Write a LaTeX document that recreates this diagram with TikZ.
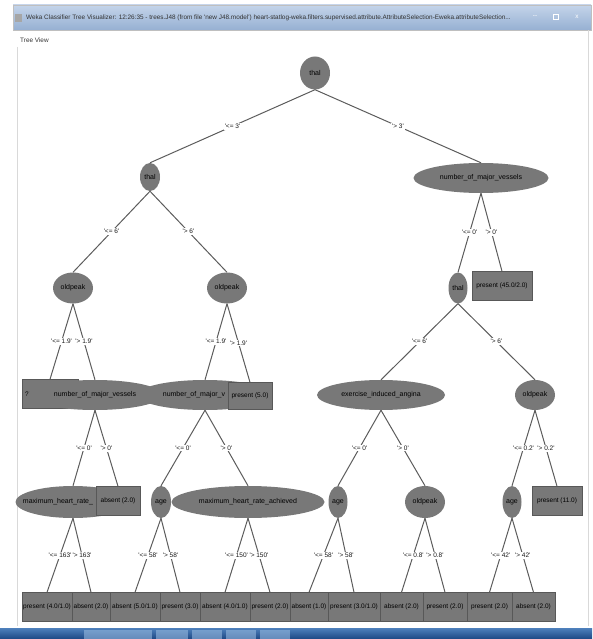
\documentclass[tikz,border=0pt]{standalone}
\usepackage{fontspec}
\usepackage{tikz}
\usetikzlibrary{shapes.geometric}
\newfontfamily\wekaFont{Liberation Sans}
\definecolor{nodeGray}{RGB}{120,120,120}
\definecolor{nodeBorder}{RGB}{88,88,88}
\definecolor{edgeGray}{RGB}{92,92,92}
\definecolor{titleTop}{RGB}{196,212,234}
\definecolor{titleBottom}{RGB}{150,176,210}
\definecolor{taskTop}{RGB}{78,128,188}
\definecolor{taskBottom}{RGB}{28,72,132}
\definecolor{taskButton}{RGB}{150,185,222}
\newcommand{\nodeFont}{\wekaFont\fontsize{7}{8}\selectfont}
\newcommand{\leafFont}{\wekaFont\fontsize{6.5}{7.5}\selectfont}
\newcommand{\smallFont}{\wekaFont\fontsize{6.4}{7}\selectfont}
\newcommand{\sq}{\textquotesingle}
\tikzstyle{screen} = [x = 1pt, y = -1pt]
\tikzstyle{splitStyle} = [ellipse, fill=nodeGray, inner sep=0, font=\nodeFont, text=black]
\tikzstyle{leafStyle} = [rectangle, fill=nodeGray, draw=nodeBorder, thin, inner sep=0, minimum height=29, font=\leafFont, text=black]
\tikzstyle{edgeLine} = [color=edgeGray, line width=1pt]
\tikzstyle{edgeText} = [midway, fill=white, inner sep=1pt, font=\leafFont, text=black!90]
\tikzstyle{frameLine} = [color=black!15, thin]
\newcommand{\splitNode}[6]{\node [splitStyle, minimum width=#4, minimum height=#5] (#1) at (#2,#3) {\makebox[0pt]{#6}};}
\newcommand{\leafNode}[5]{\node [leafStyle, minimum width=#4] (#1) at (#2,#3) {\makebox[0pt]{#5}};}
\newcommand{\treeEdge}[3]{\draw [edgeLine] (#1.south) -- (#2.north) node [edgeText] {\sq#3\sq};}

\begin{document}
\begin{tikzpicture}[screen]
  \useasboundingbox (0,0) rectangle (592,639);
  \shade [top color=titleTop, bottom color=titleBottom] (13,5) rectangle (591,30);
  \draw [color=black!25] (13,5) rectangle (591,30);
  \fill [color=black!35] (15,14) rectangle (22,22);
  \node [anchor=west, font=\smallFont, text=black!80, inner sep=0] (titleText) at (26,18)
    {Weka Classifier Tree Visualizer: 12:26:35 - trees.J48 (from file \sq new J48.model\sq) heart-statlog-weka.filters.supervised.attribute.AttributeSelection-Eweka.attributeSelection...};
  \node [font=\smallFont, text=white] (minButton) at (535,17) {--};
  \node [draw=white, thick, inner sep=0, minimum size=5] (maxButton) at (556,17) {};
  \node [font=\smallFont, text=white] (closeButton) at (577,17) {x};
  \node [anchor=west, font=\smallFont, text=black!80, inner sep=0] (menuText) at (20,40) {Tree View};
  \draw [frameLine] (17,47) -- (17,626);
  \draw [frameLine] (588,30) -- (588,626);
  \shade [top color=taskTop, bottom color=taskBottom] (0,628) rectangle (592,639);
  \foreach \left/\right in {84/152, 156/188, 192/222, 226/256, 260/290} {
    \fill [color=taskButton, opacity=.6] (\left,630) rectangle (\right,639);
  }
  \splitNode{root}{315}{73}{30}{33}{thal}
  \splitNode{thalA}{150}{177}{20}{28}{thal}
  \splitNode{vesselsA}{481}{178}{135}{30}{number\_of\_major\_vessels}
  \splitNode{oldpeakA}{73}{288}{40}{31}{oldpeak}
  \splitNode{oldpeakB}{227}{288}{40}{31}{oldpeak}
  \splitNode{thalB}{458}{288}{19}{31}{thal}
  \leafNode{leafA}{502}{286}{60}{present (45.0/2.0)}
  \node [leafStyle, minimum width=56, text width=50, align=left] (leafQ) at (50,394) {?\sq};
  \splitNode{vesselsB}{95}{395}{135}{30}{number\_of\_major\_vessels}
  \splitNode{vesselsC}{205}{395}{135}{30}{\hspace{-22pt}number\_of\_major\_v}
  \node [leafStyle, minimum width=44, minimum height=27] (leafB) at (250,396) {present (5.0)};
  \splitNode{angina}{381}{395}{128}{30}{exercise\_induced\_angina}
  \splitNode{oldpeakC}{535}{395}{40}{30}{oldpeak}
  \splitNode{heartA}{73}{502}{115}{32}{\hspace{-30pt}maximum\_heart\_rate\_}
  \leafNode{leafC}{118}{501}{44}{absent (2.0)}
  \splitNode{ageA}{161}{502}{20}{32}{age}
  \splitNode{heartB}{248}{502}{153}{32}{maximum\_heart\_rate\_achieved}
  \splitNode{ageB}{338}{502}{19}{32}{age}
  \splitNode{oldpeakD}{425}{502}{40}{32}{oldpeak}
  \splitNode{ageC}{512}{502}{19}{32}{age}
  \leafNode{leafD}{557}{501}{50}{present (11.0)}
  \leafNode{leafE}{47}{607}{50}{present (4.0/1.0)}
  \leafNode{leafF}{91}{607}{38}{absent (2.0)}
  \leafNode{leafG}{135}{607}{50}{absent (5.0/1.0)}
  \leafNode{leafH}{180}{607}{40}{present (3.0)}
  \leafNode{leafI}{225}{607}{50}{absent (4.0/1.0)}
  \leafNode{leafJ}{270}{607}{40}{present (2.0)}
  \leafNode{leafK}{309}{607}{38}{absent (1.0)}
  \leafNode{leafL}{354}{607}{52}{present (3.0/1.0)}
  \leafNode{leafM}{401.5}{607}{43}{absent (2.0)}
  \leafNode{leafN}{445}{607}{44}{present (2.0)}
  \leafNode{leafO}{489.5}{607}{45}{present (2.0)}
  \leafNode{leafP}{533.5}{607}{43}{absent (2.0)}
  \treeEdge{root}{thalA}{<= 3}
  \treeEdge{root}{vesselsA}{> 3}
  \treeEdge{thalA}{oldpeakA}{<= 6}
  \treeEdge{thalA}{oldpeakB}{> 6}
  \treeEdge{vesselsA}{thalB}{<= 0}
  \treeEdge{vesselsA}{leafA}{> 0}
  \treeEdge{oldpeakA}{leafQ}{<= 1.9}
  \treeEdge{oldpeakA}{vesselsB}{> 1.9}
  \treeEdge{oldpeakB}{vesselsC}{<= 1.9}
  \treeEdge{oldpeakB}{leafB}{> 1.9}
  \treeEdge{thalB}{angina}{<= 6}
  \treeEdge{thalB}{oldpeakC}{> 6}
  \treeEdge{vesselsB}{heartA}{<= 0}
  \treeEdge{vesselsB}{leafC}{> 0}
  \treeEdge{vesselsC}{ageA}{<= 0}
  \treeEdge{vesselsC}{heartB}{> 0}
  \treeEdge{angina}{ageB}{<= 0}
  \treeEdge{angina}{oldpeakD}{> 0}
  \treeEdge{oldpeakC}{ageC}{<= 0.2}
  \treeEdge{oldpeakC}{leafD}{> 0.2}
  \treeEdge{heartA}{leafE}{<= 163}
  \treeEdge{heartA}{leafF}{> 163}
  \treeEdge{ageA}{leafG}{<= 58}
  \treeEdge{ageA}{leafH}{> 58}
  \treeEdge{heartB}{leafI}{<= 150}
  \treeEdge{heartB}{leafJ}{> 150}
  \treeEdge{ageB}{leafK}{<= 58}
  \treeEdge{ageB}{leafL}{> 58}
  \treeEdge{oldpeakD}{leafM}{<= 0.8}
  \treeEdge{oldpeakD}{leafN}{> 0.8}
  \treeEdge{ageC}{leafO}{<= 42}
  \treeEdge{ageC}{leafP}{> 42}
\end{tikzpicture}
\end{document}
